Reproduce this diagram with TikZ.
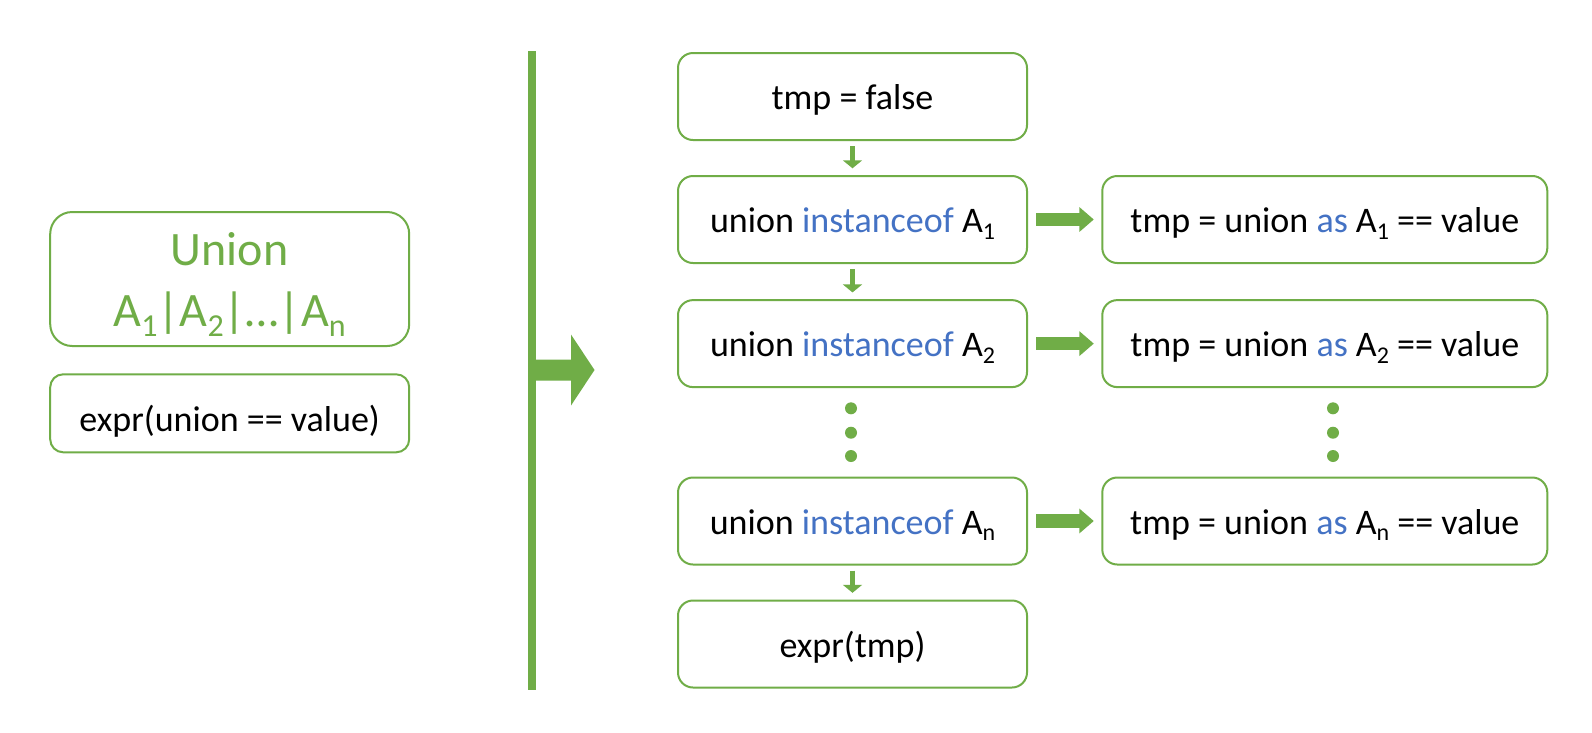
\documentclass[tikz,border=0pt]{standalone}
\usepackage{fontspec}
\setmainfont{Carlito}
\usetikzlibrary{arrows.meta}
\definecolor{ogreen}{HTML}{70AD47}
\definecolor{oblue}{HTML}{4472C4}
\newcommand\subs[1]{\raisebox{-6.7pt}{\fontsize{24}{24}\selectfont #1}}
\newcommand\subsb[1]{\raisebox{-10pt}{\fontsize{32}{32}\selectfont #1}}
\newcommand\kw[1]{\textcolor{oblue}{#1}}
\begin{document}
\begin{tikzpicture}[x=1pt,y=-1pt,
  box/.style={draw=ogreen, line width=2pt, rounded corners=15pt, inner sep=0pt,
    minimum width=349pt, minimum height=87pt, font=\fontsize{36}{43}\selectfont,
    text height=33pt, text depth=7pt},
  rbox/.style={box, minimum width=445pt},
  darrow/.style={draw=ogreen, line width=5pt, -{Triangle[width=19pt,length=8pt]},
    shorten <=5pt, shorten >=6.7pt},
  harrow/.style={draw=ogreen, line width=13.5pt, -{Triangle[width=24pt,length=14.5pt]},
    shorten <=8pt, shorten >=7.5pt},
  dotn/.style={circle, fill=ogreen, inner sep=0pt, minimum size=12pt}]
\fill[white] (0,0) rectangle (1592,732);
\useasboundingbox (0,0) rectangle (1592,732);

% left side
\node[box, minimum width=359pt, minimum height=134pt, rounded corners=22pt,
  text=ogreen, text height=95.4pt, text depth=0pt] (union) at (229.7,279)
  {\fontsize{48}{61.7}\selectfont\begin{tabular}[b]{@{}c@{}}Union\\A\subsb{1}|A\subsb{2}|…|A\subsb{n}\end{tabular}};
\node[box, minimum width=359pt, minimum height=78pt, rounded corners=13pt,
  text height=44pt, text depth=7pt] (lexpr) at (229.7,413.3) {expr(union == value)};

% separator and big arrow
\fill[ogreen] (528,51) rectangle (536,690);
\fill[ogreen] (536,359.5) -- (571,359.5) -- (571,334.5) -- (594.5,370) -- (571,405.5)
  -- (571,380.5) -- (536,380.5) -- cycle;

% middle column
\node[box] (b0) at (852.5,96.5) {tmp = false};
\node[box] (b1) at (852.5,219.5) {union \kw{instanceof} A\subs{1}};
\node[box] (b2) at (852.5,343.6) {union \kw{instanceof} A\subs{2}};
\node[box] (bn) at (852.5,521) {union \kw{instanceof} A\subs{n}};
\node[box] (be) at (852.5,644) {expr(tmp)};

% right column
\node[rbox] (r1) at (1324.8,219.5) {tmp = union \kw{as} A\subs{1} == value};
\node[rbox] (r2) at (1324.8,343.6) {tmp = union \kw{as} A\subs{2} == value};
\node[rbox] (rn) at (1324.8,521) {tmp = union \kw{as} A\subs{n} == value};

% dots
\node[dotn] (dl1) at (851,408.3) {};
\node[dotn] (dl2) at (851,432.7) {};
\node[dotn] (dl3) at (851,456) {};
\node[dotn] (dr1) at (1333,408.3) {};
\node[dotn] (dr2) at (1333,432.7) {};
\node[dotn] (dr3) at (1333,456) {};

% arrows
\draw[darrow] (b0.south) -- (b1.north);
\draw[darrow] (b1.south) -- (b2.north);
\draw[darrow] (bn.south) -- (be.north);
\draw[harrow] (b1.east) -- (r1.west);
\draw[harrow] (b2.east) -- (r2.west);
\draw[harrow] (bn.east) -- (rn.west);
\end{tikzpicture}
\end{document}
